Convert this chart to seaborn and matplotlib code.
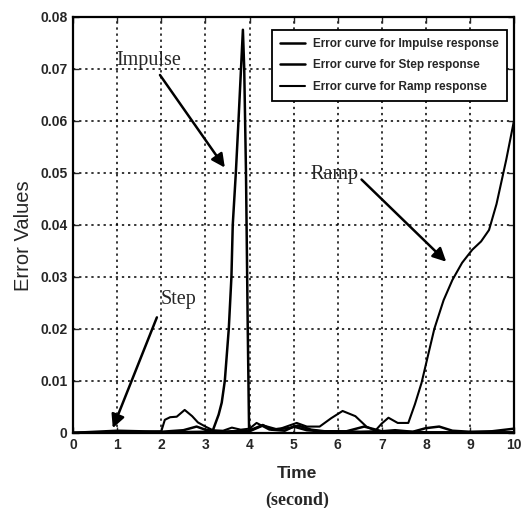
import matplotlib
matplotlib.use("Agg")
import matplotlib.pyplot as plt
import seaborn as sns
import pandas as pd

# Error curves (time in seconds, error values)
t_impulse = [0, 1.0, 2.0, 3.0, 3.17, 3.3, 3.37, 3.44, 3.53, 3.59, 3.62, 3.69, 3.75, 3.85,
             3.88, 3.92, 3.96, 3.99, 4.1, 4.3, 4.5, 4.8, 5.0, 5.3, 5.6, 6.0, 6.5, 7.0,
             7.5, 8.0, 9.0, 10.0]
e_impulse = [0, 0, 0.0001, 0.0002, 0.0005, 0.0035, 0.0058, 0.010, 0.020, 0.030, 0.040,
             0.050, 0.060, 0.0775, 0.070, 0.050, 0.020, 0.0005, 0.0008, 0.0015, 0.0006,
             0.0004, 0.0012, 0.0005, 0.0003, 0.0003, 0.0002, 0.0003, 0.0002, 0.0001,
             0.0001, 0.0001]

t_step = [0, 0.5, 1.0, 1.5, 2.0, 2.5, 2.8, 3.0, 3.3, 3.6, 4.0, 4.3, 4.6, 4.9, 5.1, 5.4,
          5.8, 6.2, 6.6, 7.0, 7.3, 7.7, 8.0, 8.3, 8.6, 9.0, 9.5, 10.0]
e_step = [0, 0.0002, 0.0004, 0.0003, 0.0002, 0.0005, 0.0012, 0.0006, 0.0002, 0.0003,
          0.0003, 0.0014, 0.0007, 0.0009, 0.0014, 0.0006, 0.0002, 0.0003, 0.0012, 0.0003,
          0.0005, 0.0002, 0.0009, 0.0012, 0.0004, 0.0002, 0.0003, 0.0008]

t_ramp = [0, 0.5, 1.0, 1.5, 2.0, 2.08, 2.2, 2.35, 2.53, 2.7, 2.83, 3.0, 3.17, 3.4, 3.6,
          3.8, 4.0, 4.16, 4.45, 4.7, 5.07, 5.3, 5.59, 5.85, 6.11, 6.4, 6.65, 6.85, 7.0,
          7.15, 7.36, 7.6, 7.75, 7.9, 8.05, 8.19, 8.4, 8.6, 8.82, 9.05, 9.25, 9.43, 9.6,
          9.82, 10.0]
e_ramp = [0, 0.0001, 0.0002, 0.0002, 0.0003, 0.0025, 0.0030, 0.0031, 0.0044, 0.0032,
          0.0020, 0.0012, 0.0005, 0.0004, 0.0010, 0.0006, 0.0008, 0.0019, 0.0006, 0.0008,
          0.0019, 0.0012, 0.0012, 0.0028, 0.0042, 0.0032, 0.0012, 0.0004, 0.0018, 0.0029,
          0.0019, 0.0019, 0.0055, 0.0096, 0.0150, 0.0200, 0.0255, 0.0294, 0.0327, 0.0352,
          0.0368, 0.0390, 0.0440, 0.0525, 0.0602]

series_labels = ["Error curve for Impulse response",
                 "Error curve for Step response",
                 "Error curve for Ramp response"]
x_ticks = list(range(0, 11))
y_ticks = [0, 0.01, 0.02, 0.03, 0.04, 0.05, 0.06, 0.07, 0.08]
y_tick_labels = ["0", "0.01", "0.02", "0.03", "0.04", "0.05", "0.06", "0.07", "0.08"]

sns.set_style("ticks")
plt.rcParams["font.family"] = ["Liberation Sans", "DejaVu Sans"]

fig = plt.figure(figsize=(5.22, 5.08), dpi=100)
ax = fig.add_axes([0.14, 0.148, 0.845, 0.819])

frames = [
    pd.DataFrame({"t": t_impulse, "e": e_impulse, "curve": series_labels[0]}),
    pd.DataFrame({"t": t_step, "e": e_step, "curve": series_labels[1]}),
    pd.DataFrame({"t": t_ramp, "e": e_ramp, "curve": series_labels[2]}),
]
widths = [1.8, 1.8, 1.5]
for df, lw in zip(frames, widths):
    sns.lineplot(data=df, x="t", y="e", color="black", lw=lw, ax=ax,
                 label=df["curve"].iloc[0], sort=False, estimator=None)

ax.set_xlim(0, 10)
ax.set_ylim(0, 0.08)
ax.set_xticks(x_ticks)
ax.set_xticklabels([str(v) for v in x_ticks], fontsize=10, fontweight="bold")
ax.set_yticks(y_ticks)
ax.set_yticklabels(y_tick_labels, fontsize=10, fontweight="bold")
ax.tick_params(direction="in", top=True, right=True, length=4, width=1, pad=4)
ax.grid(True, color="black", linestyle=(0, (1.5, 2.5)), linewidth=1.1)
for s in ax.spines.values():
    s.set_linewidth(1.6)
    s.set_color("black")

ax.set_xlabel("Time", fontsize=12.5, fontweight="bold")
ax.xaxis.set_label_coords(0.508, -0.079)
ax.set_ylabel("Error Values", fontsize=14.5)
ax.yaxis.set_label_coords(-0.09, 0.474)
fig.text(0.569, 0.016, "(second)", ha="center", va="center", fontsize=13,
         fontweight="bold", family=["Liberation Serif", "DejaVu Serif"])

leg = ax.legend(loc="upper right", frameon=True, fancybox=False,
                edgecolor="black", handlelength=2.1, handletextpad=0.7,
                borderpad=0.7, labelspacing=0.8, borderaxespad=0,
                bbox_to_anchor=(0.984, 0.969),
                prop={"weight": "bold", "size": 8.5})
leg.get_frame().set_linewidth(1.3)
leg.get_frame().set_alpha(1)

serif = ["Liberation Serif", "DejaVu Serif"]
arrow = dict(arrowstyle="-|>", color="black", lw=1.8, mutation_scale=20,
             shrinkA=0, shrinkB=0)
ax.text(1.72, 0.0715, "Impulse", fontsize=14.5, family=serif, ha="center", va="center")
ax.annotate("", xy=(3.44, 0.051), xytext=(1.97, 0.0688), arrowprops=arrow)
ax.text(2.38, 0.0256, "Step", fontsize=14.5, family=serif, ha="center", va="center")
ax.annotate("", xy=(0.9, 0.0009), xytext=(1.9, 0.0222), arrowprops=arrow)
ax.text(5.93, 0.0496, "Ramp", fontsize=14.5, family=serif, ha="center", va="center")
ax.annotate("", xy=(8.46, 0.0329), xytext=(6.54, 0.0487), arrowprops=arrow)

fig.savefig("out.png", dpi=100)
